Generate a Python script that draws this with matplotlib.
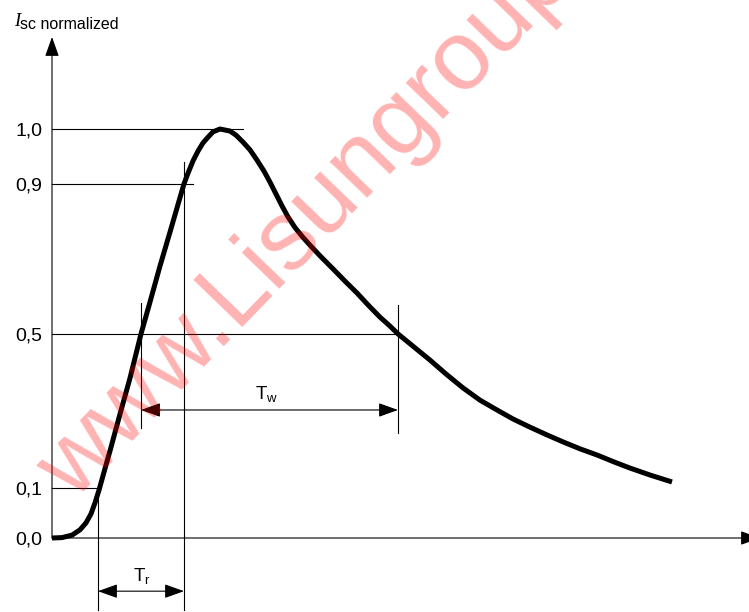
import numpy as np
import matplotlib
matplotlib.use("Agg")
import matplotlib.pyplot as plt

plt.rcParams['font.family'] = ['Liberation Sans', 'DejaVu Sans']
plt.rcParams['mathtext.fontset'] = 'custom'
plt.rcParams['mathtext.rm'] = 'Liberation Sans'

# normalized short-circuit current pulse (schematic drawing units)
curve_t = [0, 0.10, 0.20, 0.28, 0.34, 0.39, 0.43, 0.47, 0.52, 0.58, 0.68, 0.78,
           0.89, 0.98, 1.08, 1.18, 1.25, 1.32, 1.36, 1.41, 1.46, 1.51, 1.56, 1.61,
           1.68, 1.78, 1.84, 1.91, 1.98, 2.05, 2.12, 2.18, 2.24, 2.30, 2.36, 2.43,
           2.51, 2.58, 2.68, 2.81, 2.93, 3.05, 3.16, 3.28, 3.38, 3.46, 3.62, 3.78,
           3.94, 4.11, 4.28, 4.45, 4.61, 4.78, 4.95, 5.11, 5.28, 5.45, 5.62, 5.78,
           5.98, 6.20]
curve_y = [0, 0.001, 0.007, 0.020, 0.037, 0.059, 0.086, 0.117, 0.161, 0.213, 0.303, 0.391,
           0.499, 0.577, 0.665, 0.748, 0.807, 0.866, 0.892, 0.922, 0.946, 0.966, 0.980, 0.993,
           1.0, 0.995, 0.985, 0.968, 0.949, 0.924, 0.897, 0.870, 0.841, 0.812, 0.785, 0.759,
           0.735, 0.716, 0.690, 0.658, 0.628, 0.599, 0.570, 0.540, 0.518, 0.499, 0.467, 0.435,
           0.401, 0.367, 0.337, 0.313, 0.291, 0.271, 0.252, 0.235, 0.218, 0.203, 0.186, 0.171,
           0.154, 0.137]

# level lines (drawing position, label, right end of line)
level_pos = [0.0, 0.122, 0.499, 0.866, 1.0]
level_labels = ["0,0", "0,1", "0,5", "0,9", "1,0"]
level_end = [None, 0.46, 3.46, 1.41, 1.91]

# time markers
t10, t50a, t90, t50b = 0.46, 0.89, 1.32, 3.46

fig = plt.figure(figsize=(7.49, 6.12), dpi=100)
ax = fig.add_axes([52 / 749, 0, 1 - 52 / 749, 1])
ax.set_xlim(0, 6.97)
ax.set_ylim(-74 / 409, 538 / 409)
for s in ax.spines.values():
    s.set_visible(False)
ax.set_xticks([])
ax.set_yticks(level_pos, level_labels)
ax.tick_params(axis='y', length=0, pad=7.0, labelsize=14)

thin = dict(color='black', lw=0.8, clip_on=False)

# axes with arrows
head = 'head_length=1.2,head_width=0.43'
ax.annotate('', xy=(7.08, 0), xytext=(0, 0), annotation_clip=False,
            arrowprops=dict(arrowstyle='-|>,' + head, mutation_scale=10, lw=0.8,
                            color='black', shrinkA=0, shrinkB=0))
ax.annotate('', xy=(0, 1.225), xytext=(0, 0), annotation_clip=False,
            arrowprops=dict(arrowstyle='-|>,' + head, mutation_scale=10, lw=0.8,
                            color='black', shrinkA=0, shrinkB=0))

# horizontal level lines
for pos, end in zip(level_pos, level_end):
    if end is not None:
        ax.plot([0, end], [pos, pos], **thin)

# vertical marker lines
ax.plot([t10, t10], [0.122, -0.176], **thin)
ax.plot([t90, t90], [0.919, -0.176], **thin)
ax.plot([t50a, t50a], [0.575, 0.269], **thin)
ax.plot([t50b, t50b], [0.570, 0.257], **thin)

# dimension arrows
ax.annotate('', xy=(t50b, 0.313), xytext=(t50a, 0.313), annotation_clip=False,
            arrowprops=dict(arrowstyle='<|-|>,' + head, mutation_scale=10, lw=0.8,
                            color='black', shrinkA=0, shrinkB=0))
ax.annotate('', xy=(t90, -0.130), xytext=(t10, -0.130), annotation_clip=False,
            arrowprops=dict(arrowstyle='<|-|>,' + head, mutation_scale=10, lw=0.8,
                            color='black', shrinkA=0, shrinkB=0))
ax.text(2.15, 0.337, r'T$_{\mathrm{w}}$', fontsize=13.5, ha='center', va='baseline')
ax.text(0.90, -0.108, r'T$_{\mathrm{r}}$', fontsize=13.5, ha='center', va='baseline')

# curve
ax.plot(curve_t, curve_y, color='black', lw=3.6, solid_joinstyle='round',
        solid_capstyle='butt', clip_on=False, zorder=5)

# y label
ax.text(-0.375, 1.251, 'I', family='Liberation Serif', fontstyle='italic',
        fontsize=13.5, va='baseline', ha='left')
ax.text(-0.315, 1.2445, 'sc normalized', fontsize=11.5, va='baseline', ha='left')

# watermark
ax.text(0.22, 0.088, 'www.Lisungroup.com', fontsize=71, color='red', alpha=0.3,
        rotation=46, rotation_mode='anchor', ha='left', va='baseline', zorder=10,
        clip_on=False)

fig.savefig('out.png', dpi=100)
